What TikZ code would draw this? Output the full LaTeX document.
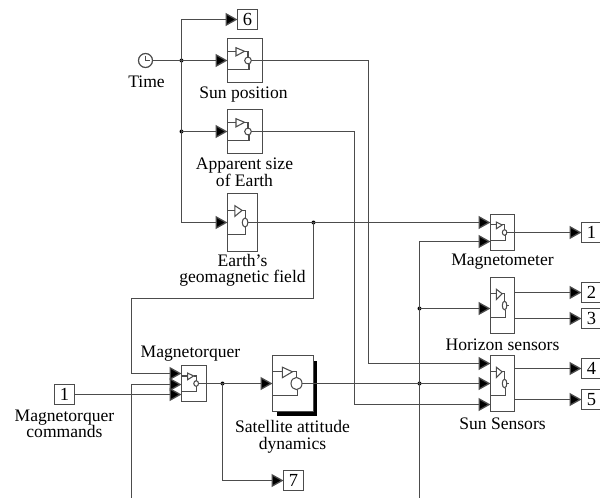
\documentclass[tikz,border=0pt]{standalone}
\usepackage{fontspec}
\setmainfont{Liberation Serif}
\usetikzlibrary{arrows.meta}
\def\px{0.02cm}
\tikzset{
    block/.style={draw=black!70, line width=0.75pt, fill=white, inner sep=0pt, outer sep=0pt},
    port/.style={draw=black!70, line width=0.75pt, fill=white, inner sep=0pt, outer sep=0pt, minimum width=20*\px, minimum height=20*\px, font=\fontsize{10.5pt}{11pt}\selectfont},
    sig/.style={draw=black!70, line width=0.75pt, -{Triangle[length=12*\px, width=13*\px, fill=black]}},
    wire/.style={draw=black!70, line width=0.75pt},
    dot/.style={circle, fill=black, inner sep=0pt, minimum size=4*\px},
    lbl/.style={align=center, inner sep=0pt, font=\fontsize{10pt}{9.4pt}\selectfont}
}
\begin{document}
\begin{tikzpicture}[x=\px, y=-\px, shift={(0.5,0.5)}]
    \useasboundingbox (-0.5,-0.5) rectangle (599.5,496.5);
    % shadow first, so the block sits on it
    \fill[black] (276,360) rectangle (316,415);
    \foreach \nm/\cx/\cy/\w/\h/\st/\rd in {sun/244.5/60/35/44/1/3.3, apparent/244.5/131/35/44/1/3.3, earth/242/222/30/58/1/3.3,
                torquer/193.5/383/25/36/1/3.3, dynamics/292.5/383/41/56/1/4.7,
                magneto/502/232/24/36/1/3.3, horizon/502/305/24/56/0.55/3.3, sunsens/502/383/24/56/0.55/3.3}
    {
        \node[block, minimum width=\w*\px, minimum height=\h*\px] (\nm) at (\cx,\cy) {};
        \begin{scope}[shift={(\cx,\cy)}, xscale=\w/35, yscale=\h/43, draw=black!70, line width=0.6pt]
            \draw (-17.5,-9) -- (-9,-9);
            \draw (-9,-12.5) -- (-0.5,-9) -- (-9,-4.5) -- cycle;
            \draw (-0.5,-9) -- (3,-9) -- (3,-\rd);
            \draw (3,0) circle (\rd);
            \draw (-17.5,9) -- (4,9) -- (4,\rd);
            \draw (3+\rd,0) -- (\st*17.5,0);
        \end{scope}
    }
    \node[circle, draw=black!70, line width=0.7pt, fill=white, minimum size=14*\px, inner sep=0pt, outer sep=0pt] (clock) at (145,60) {};
    \draw[black!70, line width=0.6pt] (145,55) -- (145,60) -- (149,60);

    \node[port] (out6) at (247,19) {6};
    \node[port] (out7) at (293,480) {7};
    \node[port] (in1) at (64,394) {1};
    \foreach \n/\y in {1/232, 2/292, 3/318, 4/368, 5/399}
        \node[port] (mag\n) at (591,\y) {\n};

    \coordinate (timejoin) at (181,60);
    \coordinate (appjoin) at (181,131);
    \coordinate (earthjoin) at (313,222);
    \coordinate (busjoin) at (222,383);
    \coordinate (torqfoot) at (131,497);
    \coordinate (sensfoot) at (419,497);
    \node[dot] (dota) at (timejoin) {};
    \node[dot] (dotb) at (appjoin) {};
    \node[dot] (dotc) at (earthjoin) {};
    \node[dot] (dotd) at (busjoin) {};
    \node[dot] (dote) at (419,308) {};
    \node[dot] (dotf) at (419,383) {};

    \draw[sig] (clock.east) -- (sun.west);
    \draw[sig] (timejoin) |- (out6.west);
    \draw[wire] (timejoin) -- (181,222);
    \draw[sig] (appjoin) -- (apparent.west);
    \draw[sig] (181,222) -- (earth.west);
    \draw[sig] (earth.east) -- (magneto.west |- earthjoin);
    \draw[sig] (earthjoin) -- (313,298) -- (131,298) -- (131,373) -- (torquer.west |- 0,373);
    \draw[sig] (torqfoot) -- (131,384) -- (torquer.west |- 0,384);
    \draw[sig] (in1.east) -- (torquer.west |- in1.east);
    \draw[wire] (torquer.east) -- (busjoin);
    \draw[sig] (busjoin) -- (dynamics.west);
    \draw[sig] (busjoin) |- (out7.west);
    \draw[sig] (dynamics.east) -- (sunsens.west);
    \draw[sig] (sun.east) -- (368,60) -- (368,363) -- (sunsens.west |- 0,363);
    \draw[sig] (apparent.east) -- (354,131) -- (354,404) -- (sunsens.west |- 0,404);
    \draw[sig] (sensfoot) -- (419,241) -- (magneto.west |- 0,241);
    \draw[sig] (dote.center) -- (horizon.west |- dote.center);
    \draw[sig] (magneto.east) -- (mag1.west);
    \draw[sig] (horizon.east |- mag2.west) -- (mag2.west);
    \draw[sig] (horizon.east |- mag3.west) -- (mag3.west);
    \draw[sig] (sunsens.east |- mag4.west) -- (mag4.west);
    \draw[sig] (sunsens.east |- mag5.west) -- (mag5.west);

    \node[lbl] (timelbl) at (146,81) {Time};
    \node[lbl] (sunlbl) at (243,94) {Sun position};
    \node[lbl] (applbl) at (244,172) {Apparent size\\of Earth};
    \node[lbl] (earthlbl) at (242,270) {Earth's\\geomagnetic field};
    \node[lbl] (torqlbl) at (190,353) {Magnetorquer};
    \node[lbl] (cmdlbl) at (64,423.5) {Magnetorquer\\commands};
    \node[lbl] (dynlbl) at (292,436.5) {Satellite attitude\\dynamics};
    \node[lbl] (magnlbl) at (502,261) {Magnetometer};
    \node[lbl] (horlbl) at (502,344) {Horizon sensors};
    \node[lbl] (sunslbl) at (502,423) {Sun Sensors};
\end{tikzpicture}
\end{document}
